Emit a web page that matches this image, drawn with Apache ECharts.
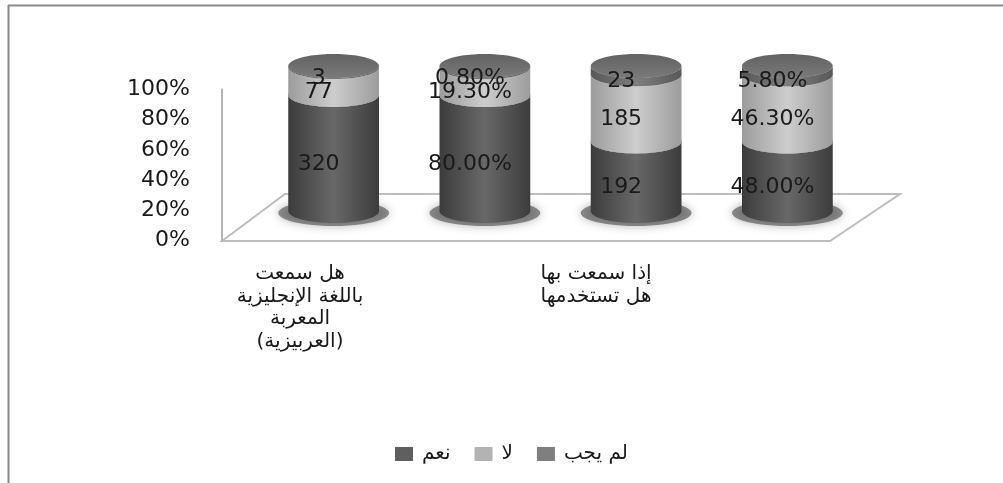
<!DOCTYPE html>
<html>
<head>
<meta charset="utf-8">
<script src="https://cdn.jsdelivr.net/npm/echarts@6/dist/echarts.min.js"></script>
<style>
  html, body { margin: 0; padding: 0; background: #fff; }
  #chart { width: 1003px; height: 483px; }
</style>
</head>
<body>
<div id="chart"></div>
<script>
// Survey answers per column: two questions, each shown as counts and as percentages
const columnKinds = ['count', 'percent', 'count', 'percent'];
const seriesNames = ['نعم', 'لا', 'لم يجب'];
const yesValues = [320, 80.00, 192, 48.00];
const noValues = [77, 19.30, 185, 46.30];
const noAnswerValues = [3, 0.80, 23, 5.80];
const questionLabels = [
  'هل سمعت\nباللغة الإنجليزية\nالمعربة\n(العربيزية)',
  'إذا سمعت بها\nهل تستخدمها'
];
const percentTicks = [0, 0.2, 0.4, 0.6, 0.8, 1];

const allValues = [yesValues, noValues, noAnswerValues];

// Shading per series: body edge/highlight, top face, legend swatch
const palette = [
  { edge: '#3c3c3c', mid: '#686868', top: ['#555555', '#6c6c6c'], legend: '#5f5f5f' },
  { edge: '#9c9c9c', mid: '#cdcdcd', top: ['#b0b0b0', '#c6c6c6'], legend: '#b3b3b3' },
  { edge: '#585858', mid: '#7e7e7e', top: ['#626262', '#7a7a7a'], legend: '#7f7f7f' }
];

const FONT = 'DejaVu Sans';

// Normalise each column to 100% and build [column, start, end, raw] tuples
const totals = columnKinds.map((_, c) => allValues.reduce((s, arr) => s + arr[c], 0));
const stacked = allValues.map(() => []);
columnKinds.forEach((kind, c) => {
  let acc = 0;
  allValues.forEach((arr, s) => {
    const start = acc / totals[c];
    acc += arr[c];
    stacked[s].push([c, start, acc / totals[c], arr[c]]);
  });
});

function formatValue(col, v) {
  return columnKinds[col] === 'percent' ? v.toFixed(2) + '%' : String(v);
}

function ellipsePoints(cx, cy, rx, ry, a0, a1, n) {
  const pts = [];
  for (let k = 0; k <= n; k++) {
    const a = a0 + (a1 - a0) * k / n;
    pts.push([cx + rx * Math.cos(a), cy + ry * Math.sin(a)]);
  }
  return pts;
}

function makeRenderer(seriesIndex) {
  const pal = palette[seriesIndex];
  const layer = seriesIndex * 10;
  return function (params, api) {
    const col = api.value(0);
    const start = api.value(1);
    const end = api.value(2);
    const raw = api.value(3);
    const pb = api.coord([col, start]);
    const pt = api.coord([col, end]);
    const band = api.size([1, 0])[0];
    const rx = band * 0.3;
    const ry = 12;
    const cx = pb[0];
    const yb = pb[1];
    const yt = pt[1];
    const children = [];

    if (seriesIndex === 0) {
      // soft floor shadow under the cylinder
      children.push({
        type: 'polygon',
        shape: { points: ellipsePoints(cx, yb + 2, rx + 10, ry + 1, 0, Math.PI * 2, 48) },
        style: { fill: 'rgba(60,60,60,0.55)', shadowBlur: 10, shadowColor: 'rgba(40,40,40,0.6)' },
        z2: layer
      });
    }

    // Body: left side, front arc of the bottom, right side, front arc of the top
    const body = [[cx - rx, yt]]
      .concat(ellipsePoints(cx, yb, rx, ry, Math.PI, 0, 32))
      .concat(ellipsePoints(cx, yt, rx, ry, 0, Math.PI, 32));
    children.push({
      type: 'polygon',
      shape: { points: body },
      style: {
        fill: {
          type: 'linear', x: 0, y: 0, x2: 1, y2: 0,
          colorStops: [
            { offset: 0, color: pal.edge },
            { offset: 0.5, color: pal.mid },
            { offset: 1, color: pal.edge }
          ]
        }
      },
      z2: layer + 1
    });

    // Top face
    children.push({
      type: 'polygon',
      shape: { points: ellipsePoints(cx, yt, rx, ry, 0, Math.PI * 2, 48) },
      style: {
        fill: {
          type: 'linear', x: 0, y: 0, x2: 0, y2: 1,
          colorStops: [
            { offset: 0, color: pal.top[0] },
            { offset: 1, color: pal.top[1] }
          ]
        }
      },
      z2: layer + 2
    });

    // Value label on the front face
    children.push({
      type: 'text',
      x: cx - 15,
      y: (yb + yt) / 2 + ry * 0.95,
      style: {
        text: formatValue(col, raw),
        fill: '#1a1a1a',
        font: '22px "' + FONT + '"',
        align: 'center',
        verticalAlign: 'middle'
      },
      z2: 100
    });

    return { type: 'group', children: children };
  };
}

const chart = echarts.init(document.getElementById('chart'), null, { renderer: 'canvas' });

const option = {
  backgroundColor: '#ffffff',
  animation: false,
  textStyle: { fontFamily: FONT },
  grid: [
    // percent scale
    { left: 222, top: 89.5, width: 600, height: 151, outerBoundsMode: 'none' },
    // cylinders
    { left: 258, top: 66, width: 605, height: 145, outerBoundsMode: 'none' },
    // question labels
    { left: 152, top: 100, width: 592, height: 150, outerBoundsMode: 'none' }
  ],
  xAxis: [
    { gridIndex: 0, type: 'value', show: false },
    { gridIndex: 1, type: 'category', data: columnKinds.map((k, i) => String(i)), show: false },
    {
      gridIndex: 2, type: 'category', data: questionLabels,
      axisLine: { show: false }, axisTick: { show: false },
      axisLabel: {
        interval: 0, margin: 13, fontSize: 20, lineHeight: 22.5,
        color: '#1a1a1a', fontFamily: FONT, align: 'center'
      }
    }
  ],
  yAxis: [
    {
      gridIndex: 0, type: 'value', min: 0, max: 1, interval: 0.2,
      axisLine: { show: true, lineStyle: { color: '#b5b5b5', width: 2 } },
      axisTick: { show: false },
      splitLine: { show: false },
      axisLabel: {
        margin: 32, fontSize: 22, color: '#1a1a1a', fontFamily: FONT,
        formatter: v => {
          const t = percentTicks.find(p => Math.abs(p - v) < 1e-9);
          return Math.round((t === undefined ? v : t) * 100) + '%';
        }
      }
    },
    { gridIndex: 1, type: 'value', min: 0, max: 1, show: false },
    { gridIndex: 2, type: 'value', show: false }
  ],
  legend: {
    data: seriesNames,
    left: 390,
    top: 439,
    itemWidth: 18,
    itemHeight: 14,
    itemGap: 24,
    icon: 'rect',
    textStyle: { fontSize: 20, color: '#1a1a1a', fontFamily: FONT, padding: [0, 0, 0, 4] }
  },
  graphic: [
    // chart frame
    { type: 'line', shape: { x1: 8, y1: 5.5, x2: 1003, y2: 5.5 }, style: { stroke: '#8a8a8a', lineWidth: 2 }, z: 0 },
    { type: 'line', shape: { x1: 8.5, y1: 5, x2: 8.5, y2: 483 }, style: { stroke: '#8a8a8a', lineWidth: 2 }, z: 0 },
    // floor
    {
      type: 'polygon',
      shape: { points: [[222, 241], [285, 194], [900, 194], [830, 241]] },
      style: { fill: '#ffffff', stroke: '#bdbdbd', lineWidth: 2 },
      z: 0
    }
  ],
  series: seriesNames.map((name, s) => ({
    name: name,
    type: 'custom',
    xAxisIndex: 1,
    yAxisIndex: 1,
    itemStyle: { color: palette[s].legend },
    renderItem: makeRenderer(s),
    encode: { x: 0, y: [1, 2] },
    data: stacked[s],
    silent: true
  }))
};

chart.setOption(option);
</script>
</body>
</html>
